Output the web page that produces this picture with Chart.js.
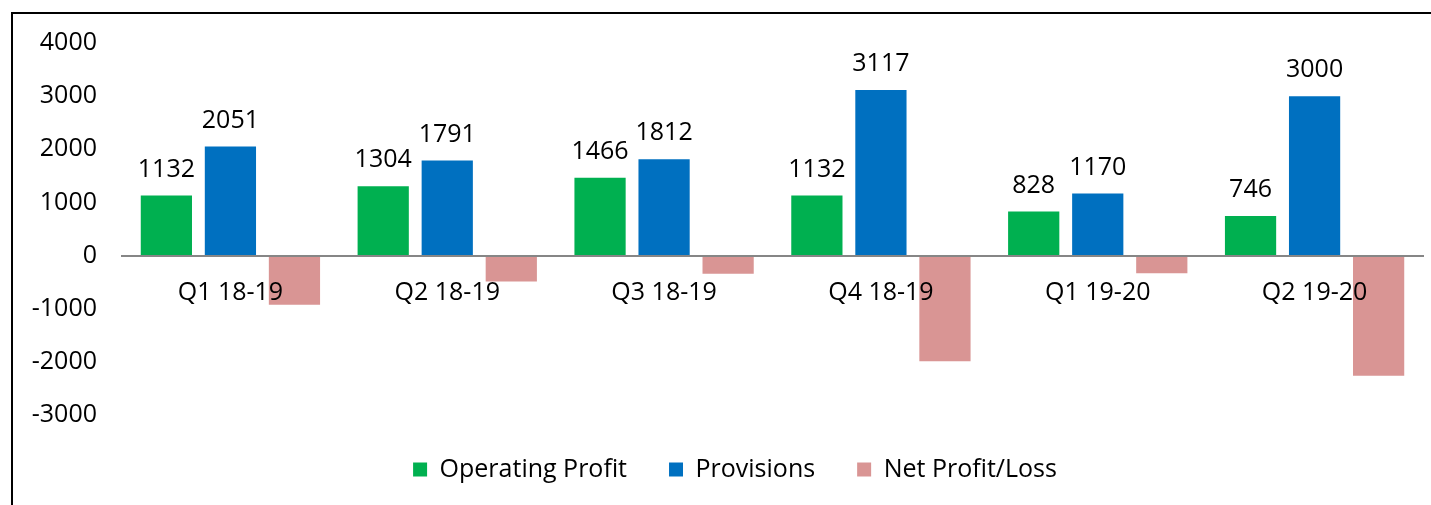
<!DOCTYPE html>
<html>
<head>
<meta charset="utf-8">
<script src="https://cdn.jsdelivr.net/npm/chart.js@4"></script>
<style>
  html, body { margin: 0; padding: 0; background: #fff; overflow: hidden; }
  #wrap { position: relative; width: 1431px; height: 505px; }
  #frame { position: absolute; left: 11px; top: 12px; width: 1440px; height: 520px; border: 2px solid #000; box-sizing: border-box; pointer-events: none; }
  canvas { position: absolute; left: 0; top: 0; }
</style>
</head>
<body>
<div id="wrap">
  <canvas id="c" width="1431" height="505"></canvas>
  <div id="frame"></div>
</div>
<script>
const categories = ['Q1 18-19', 'Q2 18-19', 'Q3 18-19', 'Q4 18-19', 'Q1 19-20', 'Q2 19-20'];
const operatingProfit = [1132, 1304, 1466, 1132, 828, 746];
const provisions = [2051, 1791, 1812, 3117, 1170, 3000];
const netProfitLoss = [-925, -490, -340, -1990, -335, -2260];
const seriesNames = ['Operating Profit', 'Provisions', 'Net Profit/Loss'];
const yTicks = [-3000, -2000, -1000, 0, 1000, 2000, 3000, 4000];

const FONT = "'Open Sans', 'DejaVu Sans', sans-serif";

const valueLabels = {
  id: 'valueLabels',
  afterDatasetsDraw(chart) {
    const ctx = chart.ctx;
    ctx.save();
    ctx.font = '25px ' + FONT;
    ctx.fillStyle = '#000';
    ctx.textAlign = 'center';
    ctx.textBaseline = 'middle';
    [0, 1].forEach(di => {
      const meta = chart.getDatasetMeta(di);
      meta.data.forEach((el, i) => {
        const v = chart.data.datasets[di].data[i];
        ctx.fillText(String(v), el.x, el.y - 26);
      });
    });
    ctx.restore();
  }
};

const legendShift = {
  id: 'legendShift',
  afterLayout(chart) {
    if (chart.legend) {
      chart.legend.left += 16;
      chart.legend.right += 16;
    }
  }
};

new Chart(document.getElementById('c'), {
  type: 'bar',
  data: {
    labels: categories,
    datasets: [
      { label: seriesNames[0], data: operatingProfit, backgroundColor: '#00B050' },
      { label: seriesNames[1], data: provisions, backgroundColor: '#0070C0' },
      { label: seriesNames[2], data: netProfitLoss, backgroundColor: '#D99594' }
    ]
  },
  options: {
    responsive: false,
    animation: false,
    devicePixelRatio: 1,
    layout: { padding: { left: 15, right: 8, top: 43, bottom: 13 } },
    datasets: { bar: { categoryPercentage: 0.886, barPercentage: 0.8 } },
    scales: {
      x: {
        position: { y: 0 },
        grid: { display: true, drawOnChartArea: false, drawTicks: true, tickLength: 19, color: 'transparent', z: 1 },
        border: { display: true, color: '#868686', width: 2, z: 1 },
        ticks: { z: 1, color: '#000', font: { family: FONT, size: 25 }, maxRotation: 0, autoSkip: false }
      },
      y: {
        min: -3000,
        max: 4000,
        afterBuildTicks(scale) { scale.ticks = yTicks.map(v => ({ value: v })); },
        afterFit(scale) { scale.width = 107; },
        grid: { display: false, drawTicks: false },
        border: { display: false },
        ticks: { color: '#000', padding: 25, font: { family: FONT, size: 25 }, callback: v => String(v) }
      }
    },
    plugins: {
      tooltip: { enabled: false },
      legend: {
        position: 'bottom',
        labels: {
          color: '#000',
          font: { family: FONT, size: 25 },
          boxWidth: 14,
          boxHeight: 14,
          padding: 42
        }
      }
    }
  },
  plugins: [valueLabels, legendShift]
});
</script>
</body>
</html>
